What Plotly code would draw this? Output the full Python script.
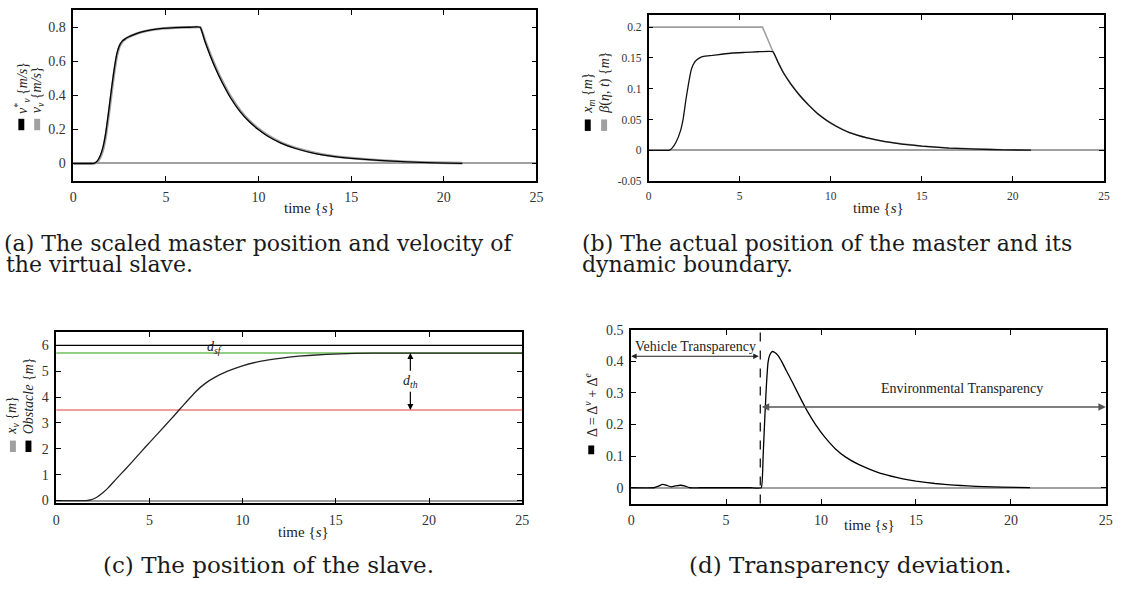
import plotly.graph_objects as go

W, H = 1130, 593

# ---------------- (a) scaled master velocity / virtual slave velocity ----------------
t_a = [0, 1.0, 1.15, 1.3, 1.45, 1.6, 1.75, 1.9, 2.05, 2.2, 2.35, 2.5, 2.65, 2.8, 3.0, 3.3,
       3.7, 4.2, 4.8, 5.5, 6.3, 6.85, 7.1, 7.4, 7.7, 8.0, 8.5, 9.0, 9.5, 10.0, 10.5, 11.2,
       12.0, 13.0, 14.0, 15.0, 16.5, 18.0, 19.5, 21.0]
v_star = [0, 0, 0.002, 0.015, 0.045, 0.096, 0.18, 0.30, 0.43, 0.55, 0.645, 0.695, 0.72, 0.732,
          0.744, 0.758, 0.773, 0.785, 0.793, 0.798, 0.8, 0.8, 0.718, 0.63, 0.552, 0.483, 0.383,
          0.305, 0.245, 0.198, 0.16, 0.12, 0.088, 0.06, 0.042, 0.03, 0.018, 0.009, 0.004, 0.001]
v_v = [0, 0, 0.001, 0.01, 0.035, 0.08, 0.16, 0.275, 0.405, 0.53, 0.63, 0.688, 0.716, 0.73,
       0.743, 0.757, 0.772, 0.784, 0.793, 0.798, 0.8, 0.8, 0.726, 0.64, 0.562, 0.492, 0.392,
       0.313, 0.252, 0.204, 0.165, 0.124, 0.091, 0.063, 0.044, 0.032, 0.019, 0.01, 0.005, 0.002]

# ---------------- (b) master position and its dynamic boundary ----------------
t_xm = [0, 1.0, 1.12, 1.3, 1.5, 1.75, 1.9, 2.05, 2.2, 2.35, 2.5, 2.65, 2.85, 3.1, 3.5, 4.0,
        4.6, 5.3, 6.0, 6.83, 7.1, 7.4, 7.8, 8.3, 8.8, 9.3, 9.8, 10.3, 11.0, 12.0, 13.0, 14.0,
        15.0, 16.5, 18.0, 19.5, 21.0]
x_m = [0, 0, 0, 0.004, 0.013, 0.032, 0.052, 0.083, 0.11, 0.132, 0.142, 0.147, 0.151, 0.153,
       0.154, 0.156, 0.158, 0.159, 0.16, 0.16, 0.143, 0.126, 0.108, 0.089, 0.073, 0.059, 0.048,
       0.039, 0.029, 0.02, 0.014, 0.0098, 0.0068, 0.0037, 0.0018, 0.0008, 0.0002]
t_beta = [0, 6.25, 6.83, 7.1, 7.4, 7.8, 8.3, 8.8, 9.3, 9.8, 10.3, 11.0, 12.0, 13.0, 14.0,
          15.0, 16.5, 18.0, 19.5, 21.0]
beta = [0.2, 0.2, 0.16, 0.143, 0.126, 0.108, 0.089, 0.073, 0.059, 0.048, 0.039, 0.029, 0.02,
        0.014, 0.0098, 0.0068, 0.0037, 0.0018, 0.0008, 0.0002]

# ---------------- (c) slave position ----------------
t_c = [0, 1.0, 1.6, 1.9, 2.2, 2.5, 2.8, 3.2, 3.75, 4.3, 4.81, 5.3, 5.87, 6.3, 6.58, 7.0, 7.47,
       8.0, 8.53, 9.2, 9.95, 11.0, 12.0, 13.0, 14.5, 16.0, 18.0, 20.0, 25.0]
x_v = [0, 0, 0, 0.04, 0.14, 0.3, 0.5, 0.82, 1.24, 1.68, 2.09, 2.47, 2.92, 3.26, 3.49, 3.83,
       4.2, 4.53, 4.77, 5.0, 5.2, 5.39, 5.5, 5.58, 5.65, 5.69, 5.70, 5.70, 5.70]
obstacle_level = 6.0
safe_level = 5.7
threshold_level = 3.5
t_span = [0, 25]

# ---------------- (d) transparency deviation ----------------
t_d = [0, 1.2, 1.45, 1.65, 1.85, 2.1, 2.35, 2.6, 2.85, 3.1, 3.6, 4.5, 5.5, 6.3, 6.85, 6.95,
       7.04, 7.12, 7.21, 7.3, 7.42, 7.55, 7.74, 7.95, 8.17, 8.5, 8.86, 9.3, 9.73, 10.2, 10.76,
       11.3, 12.0, 12.51, 13.3, 14.25, 15.0, 16.0, 17.0, 17.73, 18.6, 19.5, 21.0]
delta = [0, 0, 0.005, 0.0105, 0.008, 0.003, 0.006, 0.008, 0.005, 0, 0, 0, 0, 0, 0, 0.1,
         0.222, 0.32, 0.397, 0.42, 0.431, 0.429, 0.418, 0.397, 0.371, 0.333, 0.29, 0.24,
         0.198, 0.16, 0.123, 0.097, 0.073, 0.06, 0.043, 0.029, 0.021, 0.0135, 0.0085, 0.006,
         0.0035, 0.002, 0.0005]
switch_time = 6.8
vehicle_arrow_y = 0.416
env_arrow_y = 0.256

time_ticks = [0, 5, 10, 15, 20, 25]

# plot frames in page pixels: (left, right, top, bottom)
frames = {
    1: (70, 537.7, 3.3, 177.4),
    2: (651, 1110.7, 8, 178),
    3: (52.7, 523.3, 332.7, 507.3),
    4: (633.3, 1112.7, 330, 507.7),
}

SERIF = "Liberation Serif"
CAPTION_SERIF = "DejaVu Serif"
BLACK = "#000000"
GREY = "#a0a0a0"


def px(x):
    return x / W


def py(y):
    return 1 - y / H


fig = go.Figure()


def add_axes(k, yrange, yticks, ytext, size):
    l, r, t, b = frames[k]
    sfx = "" if k == 1 else str(k)
    common = dict(showline=True, linecolor=BLACK, linewidth=1.5, mirror="allticks",
                  ticks="inside", ticklen=5, tickwidth=1, tickcolor=BLACK, showgrid=False,
                  ticklabelstandoff=3,
                  tickfont=dict(family=SERIF, size=size, color="#333"))
    fig.layout["xaxis" + sfx] = dict(domain=[px(l), px(r)], range=[0, 25], tickvals=time_ticks,
                                     ticktext=[str(v) for v in time_ticks], zeroline=False,
                                     anchor="y" + sfx, **common)
    fig.layout["yaxis" + sfx] = dict(domain=[py(b), py(t)], range=yrange, tickvals=yticks,
                                     ticktext=ytext, zeroline=True, zerolinecolor=GREY,
                                     zerolinewidth=1.5, anchor="x" + sfx, **common)


add_axes(1, [-0.1, 0.9], [0, 0.2, 0.4, 0.6, 0.8], ["0", "0.2", "0.4", "0.6", "0.8"], 14)
add_axes(2, [-0.05, 0.22], [-0.05, 0, 0.05, 0.1, 0.15, 0.2],
         ["-0.05", "0", "0.05", "0.1", "0.15", "0.2"], 11.5)
add_axes(3, [-0.1, 6.5], [0, 1, 2, 3, 4, 5, 6], [str(v) for v in range(7)], 14)
add_axes(4, [-0.05, 0.5], [0, 0.1, 0.2, 0.3, 0.4, 0.5],
         ["0", "0.1", "0.2", "0.3", "0.4", "0.5"], 14)


def line(x, y, k, color, width, spline=True):
    sfx = "" if k == 1 else str(k)
    fig.add_trace(go.Scatter(
        x=x, y=y, xaxis="x" + sfx, yaxis="y" + sfx, mode="lines", showlegend=False,
        hoverinfo="skip",
        line=dict(color=color, width=width, shape="spline" if spline else "linear",
                  smoothing=0.35 if spline else None)))


# (a)
line(t_a, v_v, 1, GREY, 2.6)
line(t_a, v_star, 1, BLACK, 1.3)
# (b)
line(t_beta, beta, 2, GREY, 1.6, spline=False)
line(t_xm, x_m, 2, "#111", 1.3)
# (c)
line(t_span, [obstacle_level] * 2, 3, BLACK, 1.3, spline=False)
line(t_span, [safe_level] * 2, 3, "#6cbf5a", 1.5, spline=False)
line(t_span, [threshold_level] * 2, 3, "#f07c7c", 1.6, spline=False)
line(t_c, x_v, 3, "#222", 1.3)
# (d)
line(t_d, delta, 4, BLACK, 1.3)

fig.add_shape(type="line", xref="x4", yref="y4 domain", x0=switch_time, x1=switch_time,
              y0=0, y1=1, line=dict(color=BLACK, width=1.2, dash="dash"))

ann = []
label_font = dict(family=SERIF, size=14, color="#222")

# axis titles
for xc, yc in [(309, 205), (883, 205), (302.5, 537), (874, 530)]:
    ann.append(dict(xref="paper", yref="paper", x=px(xc), y=py(yc), showarrow=False,
                    text="time {<i>s</i>}", font=dict(family=SERIF, size=15, color="#222"),
                    xanchor="center", yanchor="middle"))

# rotated series labels with colour keys
keys = [
    (17.5, 111, "<i>v</i><sup>*</sup><sub><i>v</i></sub> {<i>m/s</i>}", BLACK, 114.3, 126),
    (33.5, 111, "<i>v<sub>v</sub></i> {<i>m/s</i>}", GREY, 114.3, 126),
    (589.5, 111, "<i>x<sub>m</sub></i> {<i>m</i>}", BLACK, 115, 126.7),
    (606, 111, "<i>β</i>(<i>η, t</i>) {<i>m</i>}", GREY, 115, 126.7),
    (9, 439, "<i>x<sub>v</sub></i> {<i>m</i>}", GREY, 443.3, 455),
    (24.7, 439, "<i>Obstacle</i> {<i>m</i>}", BLACK, 443.3, 455),
    (593, 442, "Δ = Δ<sup><i>v</i></sup> + Δ<sup><i>e</i></sup>", BLACK, 448.3, 457.3),
]
for xc, ybot, txt, col, k0, k1 in keys:
    ann.append(dict(xref="paper", yref="paper", x=px(xc), y=py(ybot), showarrow=False,
                    text=txt, textangle=-90, font=dict(family=SERIF, size=14, color="#222"),
                    xanchor="center", yanchor="bottom"))
    fig.add_shape(type="rect", xref="paper", yref="paper", x0=px(xc - 3), x1=px(xc + 3),
                  y0=py(k1), y1=py(k0), fillcolor=col, line=dict(width=0))

# (c) distance annotations
ann.append(dict(xref="x3", yref="y3", x=8.5, y=5.93, showarrow=False,
                text="<i>d<sub>sf</sub></i>", font=dict(family=SERIF, size=14, color="#222")))
ann.append(dict(xref="x3", yref="y3", x=19, y=4.6, showarrow=False,
                text="<i>d<sub>th</sub></i>", font=dict(family=SERIF, size=14, color="#222")))
for tip, tail in [(safe_level, 4.96), (threshold_level, 4.26)]:
    ann.append(dict(xref="x3", yref="y3", axref="x3", ayref="y3", x=19, y=tip, ax=19, ay=tail,
                    text="", showarrow=True, arrowhead=2, arrowsize=1, arrowwidth=1.2,
                    arrowcolor=BLACK, standoff=0, startstandoff=0))

# (d) transparency regions
ann.append(dict(xref="x4", yref="y4", axref="x4", ayref="y4", x=0, y=vehicle_arrow_y,
                ax=switch_time, ay=vehicle_arrow_y, text="", showarrow=True, arrowhead=2,
                arrowside="end+start", arrowsize=1, arrowwidth=1.1, arrowcolor="#222",
                standoff=0, startstandoff=0))
ann.append(dict(xref="x4", yref="y4", axref="x4", ayref="y4", x=25, y=env_arrow_y,
                ax=switch_time, ay=env_arrow_y, text="", showarrow=True, arrowhead=2,
                arrowside="end+start", arrowsize=1, arrowwidth=1.5, arrowcolor="#555",
                standoff=0, startstandoff=0))
ann.append(dict(xref="paper", yref="paper", x=px(698), y=py(346.7), showarrow=False,
                text="Vehicle Transparency", font=label_font, xanchor="center"))
ann.append(dict(xref="paper", yref="paper", x=px(967.8), y=py(399.3), showarrow=False,
                text="Environmental Transparency", font=label_font, xanchor="center"))

# sub-figure captions
top_caption_font = dict(family=CAPTION_SERIF, size=22, color="#1a1a1a")
bottom_caption_font = dict(family=CAPTION_SERIF, size=23, color="#1a1a1a")
captions = [
    (-2, 242, "(a) The scaled master position and velocity of"),
    (0, 263.5, "the virtual slave."),
    (581.7, 242, "(b) The actual position of the master and its"),
    (581.7, 263.5, "dynamic boundary."),
]
for xl, yc, txt in captions:
    ann.append(dict(xref="paper", yref="paper", x=px(xl), y=py(yc), showarrow=False,
                    text=txt, font=top_caption_font, xanchor="left", yanchor="middle"))
for xc, txt in [(267.5, "(c) The position of the slave."), (855, "(d) Transparency deviation.")]:
    ann.append(dict(xref="paper", yref="paper", x=px(xc), y=py(571), showarrow=False,
                    text=txt, font=bottom_caption_font, xanchor="center", yanchor="middle"))

fig.update_layout(width=W, height=H, margin=dict(l=0, r=0, t=0, b=0, pad=0),
                  paper_bgcolor="white", plot_bgcolor="white", annotations=ann)

fig.write_html("out.html")
